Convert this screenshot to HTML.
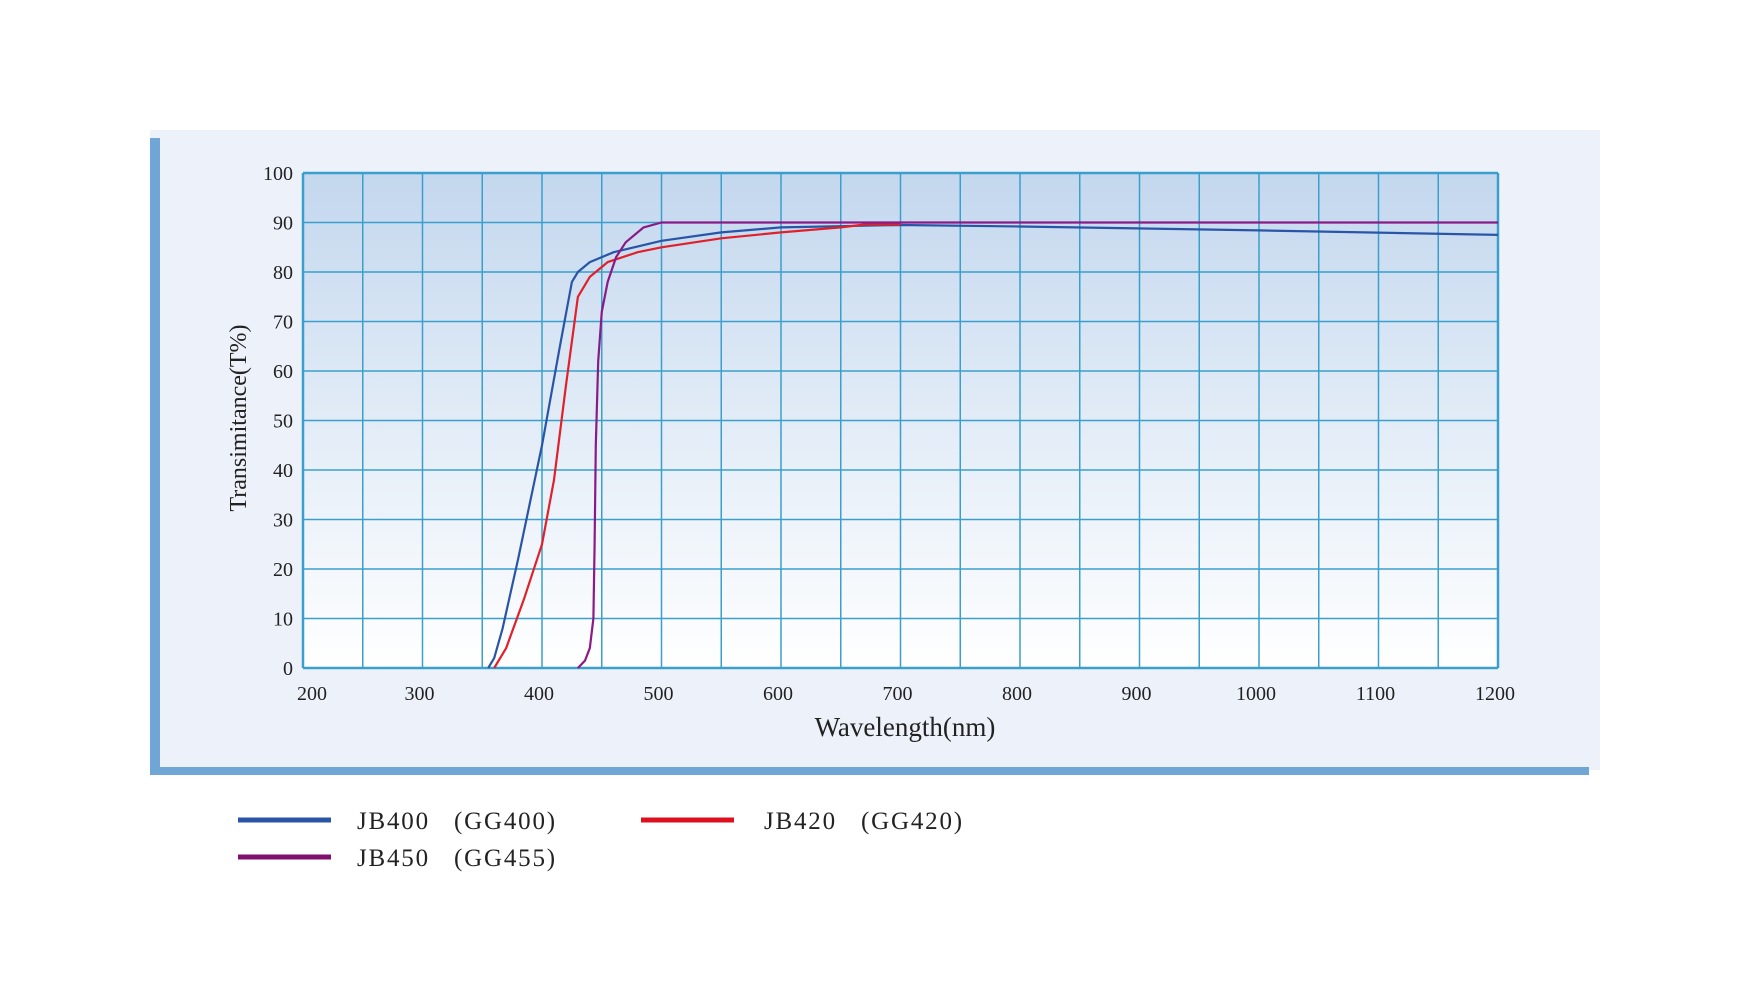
<!DOCTYPE html>
<html><head><meta charset="utf-8"><style>
body{margin:0;background:#fff;width:1749px;height:1000px;overflow:hidden}
text{font-family:"Liberation Serif",serif;fill:#222;white-space:pre}
</style></head><body>
<svg width="1749" height="1000" viewBox="0 0 1749 1000" xmlns="http://www.w3.org/2000/svg">
<defs>
<linearGradient id="pg" x1="0" y1="0" x2="0" y2="1">
<stop offset="0" stop-color="#c3d7ee"/><stop offset="0.5" stop-color="#e2ecf7"/><stop offset="1" stop-color="#ffffff"/>
</linearGradient>
</defs>
<rect x="150" y="130" width="1450" height="640" fill="#edf2fa"/>
<rect x="150" y="138" width="10" height="637" fill="#6fa6d6"/>
<rect x="150" y="767" width="1439" height="8" fill="#6fa6d6"/>
<rect x="303" y="173" width="1195" height="495" fill="url(#pg)"/>
<g stroke="#3a9fcc" stroke-width="1.5" fill="none" id="grid"></g>
<g id="ylab" font-size="20" text-anchor="end"></g>
<g id="xlab" font-size="20" text-anchor="middle"></g>
<text x="905" y="736" font-size="27" text-anchor="middle">Wavelength(nm)</text>
<text transform="translate(246,418) rotate(-90)" font-size="24" text-anchor="middle">Transimitance(T%)</text>
<g fill="none" stroke-width="2.2" stroke-linejoin="round">
<polyline id="b" stroke="#2a55a6"/>
<polyline id="r" stroke="#e0202a"/>
<polyline id="p" stroke="#8a1a86"/>
</g>
<line x1="238" y1="820" x2="331" y2="820" stroke="#2a55a6" stroke-width="5"/>
<line x1="238" y1="857" x2="331" y2="857" stroke="#80106e" stroke-width="5"/>
<line x1="641" y1="820" x2="734" y2="820" stroke="#dd1020" stroke-width="5"/>
<g font-size="25" letter-spacing="1.8">
<text x="357" y="829">JB400&#160;&#160;&#160;(GG400)</text>
<text x="357" y="866">JB450&#160;&#160;&#160;(GG455)</text>
<text x="764" y="829">JB420&#160;&#160;&#160;(GG420)</text>
</g>
</svg>
<script>
const X=n=>303+(n-200)*1.195, Y=t=>668-t*4.95, ns="http://www.w3.org/2000/svg";
const g=document.getElementById('grid');
for(let i=0;i<=20;i++){const l=document.createElementNS(ns,'line');const x=303+i*59.75;l.setAttribute('x1',x);l.setAttribute('x2',x);l.setAttribute('y1',173);l.setAttribute('y2',668);if(i==0||i==20)l.setAttribute('stroke-width','2.5');g.appendChild(l);}
for(let i=0;i<=10;i++){const l=document.createElementNS(ns,'line');const y=173+i*49.5;l.setAttribute('x1',303);l.setAttribute('x2',1498);l.setAttribute('y1',y);l.setAttribute('y2',y);if(i==0||i==10)l.setAttribute('stroke-width','2.5');g.appendChild(l);}
const yl=document.getElementById('ylab');
for(let v=0;v<=100;v+=10){const t=document.createElementNS(ns,'text');t.setAttribute('x',293);t.setAttribute('y',Y(v)+7);t.textContent=v;yl.appendChild(t);}
const xl=document.getElementById('xlab');
for(let v=200;v<=1200;v+=100){const t=document.createElementNS(ns,'text');t.setAttribute('x',X(v)+ (v==200?9:-3));t.setAttribute('y',700);t.textContent=v;xl.appendChild(t);}
const set=(id,d)=>document.getElementById(id).setAttribute('points',d.map(p=>X(p[0]).toFixed(1)+','+Y(p[1]).toFixed(1)).join(' '));
set('b',[[355,0],[360,2],[367,8],[380,22],[400,45],[415,65],[425,78],[430,80],[440,82],[460,84],[500,86.3],[550,88],[600,89],[700,89.5],[800,89.2],[1000,88.4],[1200,87.5]]);
set('r',[[360,0],[370,4],[385,14],[400,25],[410,38],[420,57],[430,75],[440,79],[455,82],[480,84],[500,85],[550,86.8],[600,88],[650,89],[670,89.6],[700,89.6]]);
set('p',[[430,0],[436,1.5],[440,4],[443,10],[444,25],[445,45],[447,62],[450,72],[455,78],[462,83],[470,86],[485,89],[500,90],[600,90],[1200,90]]);
</script>
</body></html>
